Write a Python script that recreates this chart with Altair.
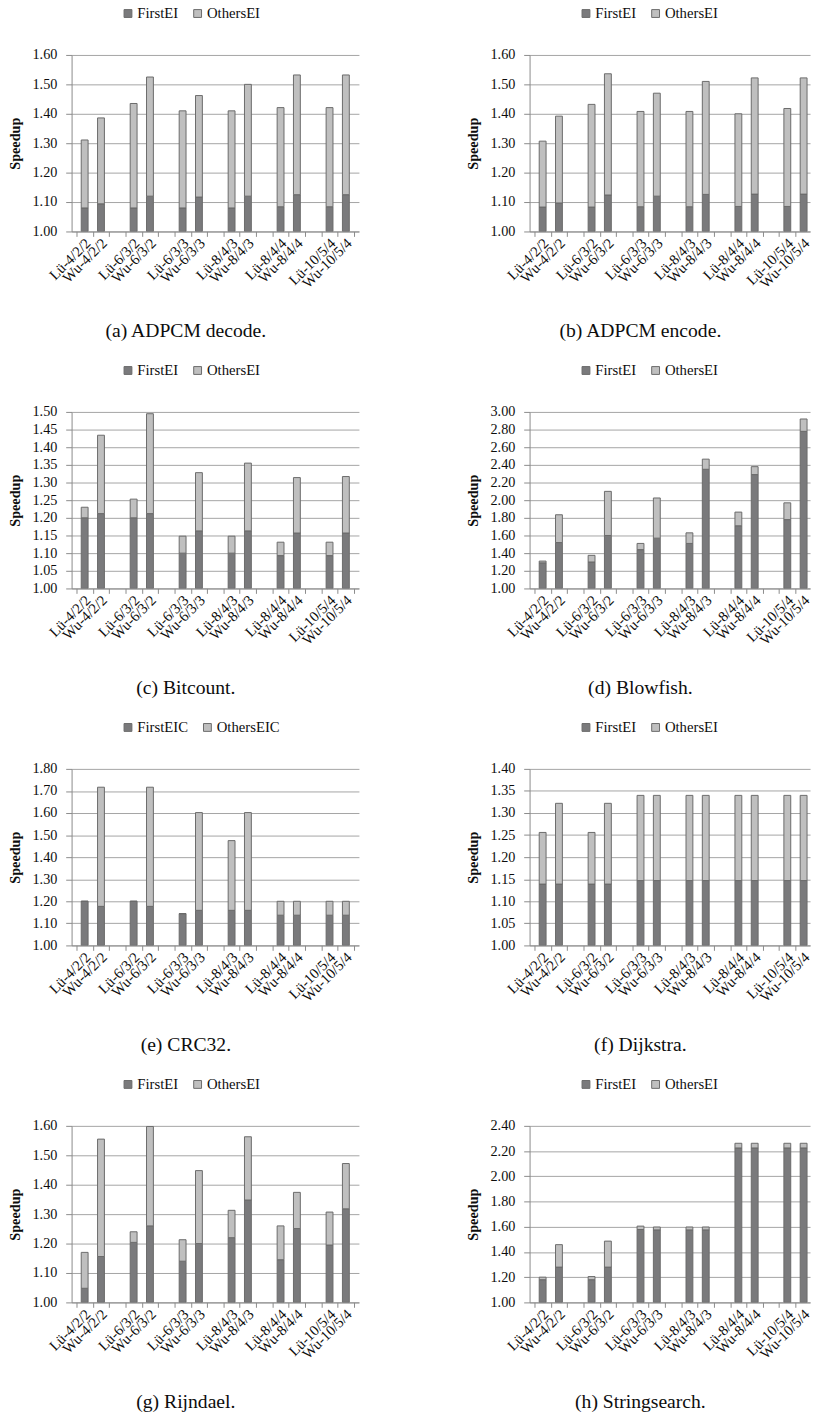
import altair as alt
import pandas as pd

SERIF = "Liberation Serif"
DARK = "#7a7a7c"
LIGHT = "#bfbfbf"
EDGE = "#6a6a6a"
GRID = "#a3a3a3"
INK = "#0d0d0d"

# configurations, drawn in pairs with an empty slot between pairs
configs = ["Lü-4/2/2", "Wu-4/2/2", "Lü-6/3/2", "Wu-6/3/2", "Lü-6/3/3", "Wu-6/3/3",
           "Lü-8/4/3", "Wu-8/4/3", "Lü-8/4/4", "Wu-8/4/4", "Lü-10/5/4", "Wu-10/5/4"]

# speedup reached by the first EI, and total speedup (first + others)
adpcm_dec_first = [1.080, 1.094, 1.080, 1.120, 1.080, 1.117, 1.080, 1.120, 1.084, 1.125, 1.084, 1.125]
adpcm_dec_total = [1.311, 1.386, 1.435, 1.525, 1.410, 1.462, 1.410, 1.500, 1.421, 1.532, 1.421, 1.532]

adpcm_enc_first = [1.083, 1.097, 1.083, 1.124, 1.084, 1.120, 1.084, 1.126, 1.085, 1.127, 1.085, 1.127]
adpcm_enc_total = [1.307, 1.392, 1.432, 1.536, 1.408, 1.470, 1.408, 1.510, 1.400, 1.522, 1.418, 1.522]

bitcount_first = [1.200, 1.212, 1.200, 1.212, 1.100, 1.163, 1.100, 1.163, 1.093, 1.157, 1.093, 1.157]
bitcount_total = [1.230, 1.434, 1.253, 1.495, 1.148, 1.328, 1.148, 1.355, 1.131, 1.314, 1.131, 1.317]

blowfish_first = [1.290, 1.520, 1.300, 1.600, 1.440, 1.570, 1.510, 2.350, 1.710, 2.290, 1.780, 2.780]
blowfish_total = [1.310, 1.835, 1.375, 2.100, 1.510, 2.025, 1.630, 2.465, 1.865, 2.380, 1.970, 2.920]

crc32_first = [1.200, 1.177, 1.200, 1.177, 1.144, 1.159, 1.159, 1.159, 1.137, 1.137, 1.137, 1.137]
crc32_total = [1.200, 1.717, 1.200, 1.717, 1.144, 1.602, 1.475, 1.602, 1.200, 1.200, 1.200, 1.200]

dijkstra_first = [1.139, 1.139, 1.139, 1.139, 1.147, 1.147, 1.147, 1.147, 1.147, 1.147, 1.147, 1.147]
dijkstra_total = [1.256, 1.322, 1.256, 1.322, 1.340, 1.340, 1.340, 1.340, 1.340, 1.340, 1.340, 1.340]

rijndael_first = [1.048, 1.156, 1.204, 1.260, 1.140, 1.200, 1.220, 1.348, 1.145, 1.251, 1.195, 1.318]
rijndael_total = [1.170, 1.555, 1.240, 1.598, 1.213, 1.448, 1.313, 1.563, 1.260, 1.374, 1.307, 1.472]

strsearch_first = [1.180, 1.280, 1.180, 1.280, 1.578, 1.575, 1.575, 1.575, 2.225, 2.225, 2.225, 2.225]
strsearch_total = [1.200, 1.458, 1.205, 1.486, 1.605, 1.598, 1.598, 1.598, 2.262, 2.262, 2.262, 2.262]

EI_NAMES = ["FirstEI", "OthersEI"]
EIC_NAMES = ["FirstEIC", "OthersEIC"]

LEFT_W = 293
RIGHT_W = 286
PLOT_H = 180
N_SLOTS = 17


def slot_of(k):
    # pairs sit in slots (0,1), (3,4), (6,7), ...
    return (k // 2) * 3 + k % 2


slot_names = [""] * N_SLOTS
for k, c in enumerate(configs):
    slot_names[slot_of(k)] = c
label_array = "[" + ",".join("'" + s + "'" for s in slot_names) + "]"
label_expr = "datum.value % 1 === 0 ? '' : " + label_array + "[floor(datum.value)]"


def panel(caption, first, total, ymax, step, names, right=False):
    rows = []
    for k, (c, f, t) in enumerate(zip(configs, first, total)):
        pos = slot_of(k) + 0.5
        rows.append({"config": c, "pos": pos, "series": names[0], "lo": 1.0, "hi": f})
        rows.append({"config": c, "pos": pos, "series": names[1], "lo": f, "hi": t})
    df = pd.DataFrame(rows)

    w = RIGHT_W if right else LEFT_W
    xmax = N_SLOTS * w / LEFT_W
    xvals = [i for i in range(N_SLOTS + 1) if i <= xmax] + \
            [slot_of(k) + 0.5 for k in range(len(configs)) if slot_of(k) + 0.5 <= xmax]

    n = int(round((ymax - 1.0) / step))
    yvals = [round(1.0 + i * step, 2) for i in range(n + 1)]

    return alt.Chart(df).mark_bar(size=7, stroke=EDGE, strokeWidth=1, clip=True).encode(
        x=alt.X("pos:Q",
                scale=alt.Scale(domain=[0, xmax], nice=False, zero=False),
                axis=alt.Axis(values=xvals, labelExpr=label_expr, title=None, grid=False,
                              labelAngle=-45, labelAlign="right", labelBaseline="middle",
                              labelOverlap=False, labelFlush=False, labelFont=SERIF,
                              labelFontSize=15, labelColor=INK, labelPadding=4,
                              labelOffset=3, tickSize=5, tickColor="#8a8a8a",
                              tickOpacity={"condition": {"test": "datum.value % 1 !== 0", "value": 0},
                                           "value": 1},
                              domainColor="#8a8a8a")),
        y=alt.Y("lo:Q",
                scale=alt.Scale(domain=[1.0, ymax], nice=False, zero=False),
                axis=alt.Axis(values=yvals, format=".2f", title="Speedup", grid=True,
                              gridColor=GRID, gridWidth=1, domainColor="#8a8a8a",
                              tickColor="#8a8a8a", tickSize=6, labelPadding=9,
                              labelFont=SERIF, labelFontSize=14.5, labelColor=INK,
                              titleFont=SERIF, titleFontSize=14.5, titleFontWeight="bold",
                              titleColor=INK, titlePadding=10)),
        y2="hi:Q",
        color=alt.Color("series:N",
                        scale=alt.Scale(domain=names, range=[DARK, LIGHT]),
                        sort=names,
                        legend=alt.Legend(orient="none", legendX=50, legendY=-50,
                                          direction="horizontal", title=None,
                                          symbolType="square", symbolSize=64,
                                          symbolStrokeColor=EDGE, symbolStrokeWidth=1,
                                          labelFont=SERIF, labelFontSize=15,
                                          labelColor=INK, labelOffset=2,
                                          columnPadding=12)),
        order=alt.Order("lo:Q"),
    ).properties(
        width=w, height=PLOT_H,
        title=alt.Title(caption, orient="bottom", anchor="middle",
                        font=SERIF, fontSize=20, fontWeight="normal", color=INK,
                        offset=31, dx=-30),
    )


pa = panel("(a) ADPCM decode.", adpcm_dec_first, adpcm_dec_total, 1.60, 0.10, EI_NAMES)
pb = panel("(b) ADPCM encode.", adpcm_enc_first, adpcm_enc_total, 1.60, 0.10, EI_NAMES, right=True)
pc = panel("(c) Bitcount.", bitcount_first, bitcount_total, 1.50, 0.05, EI_NAMES)
pd_ = panel("(d) Blowfish.", blowfish_first, blowfish_total, 3.00, 0.20, EI_NAMES, right=True)
pe = panel("(e) CRC32.", crc32_first, crc32_total, 1.80, 0.10, EIC_NAMES)
pf = panel("(f) Dijkstra.", dijkstra_first, dijkstra_total, 1.40, 0.05, EI_NAMES, right=True)
pg = panel("(g) Rijndael.", rijndael_first, rijndael_total, 1.60, 0.10, EI_NAMES)
ph = panel("(h) Stringsearch.", strsearch_first, strsearch_total, 2.40, 0.20, EI_NAMES, right=True)


def row(left, right):
    return alt.hconcat(left, right, spacing=104).resolve_scale(color="independent").resolve_legend(color="independent")


chart = alt.vconcat(
    row(pa, pb), row(pc, pd_), row(pe, pf), row(pg, ph), spacing=22
).resolve_scale(color="independent").resolve_legend(color="independent").properties(
    padding={"left": 7, "top": -8, "right": 0, "bottom": 0},
    background="white",
).configure_view(stroke=None)

chart.save("out.html", embed_options={"renderer": "svg", "actions": False})
